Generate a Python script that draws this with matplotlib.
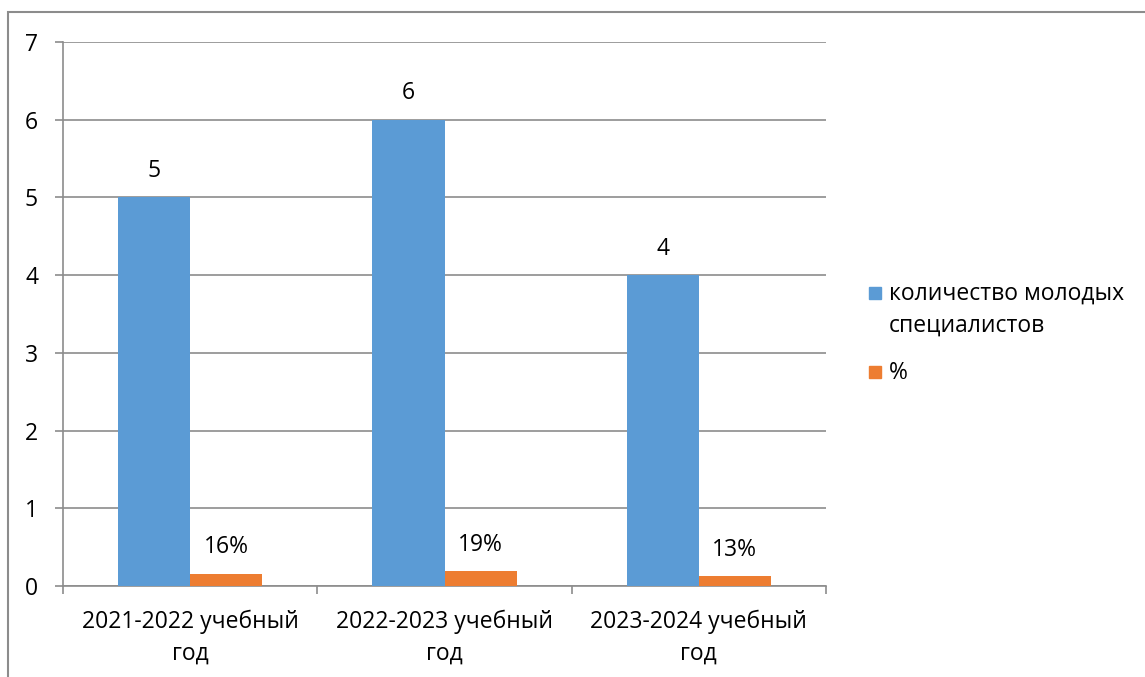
import numpy as np
import matplotlib.pyplot as plt
from matplotlib.patches import Rectangle

# data
years = ["2021-2022 учебный\nгод", "2022-2023 учебный\nгод", "2023-2024 учебный\nгод"]
young = [5, 6, 4]
pct = [0.16, 0.19, 0.13]
young_labels = ["5", "6", "4"]
pct_labels = ["16%", "19%", "13%"]
series_names = ["количество молодых\nспециалистов", "%"]

plt.rcParams['font.family'] = ['Open Sans', 'DejaVu Sans']
grey = '#8c8c8c'
blue = '#5b9bd5'
orange = '#ed7d31'
fs = 16.5

fig = plt.figure(figsize=(11.45, 6.77), dpi=100)
ax = fig.add_axes([63/1145, 1-586/677, (826-63)/1145, (586-42)/677])

x = np.arange(len(years))
w = 72/254
b1 = ax.bar(x - w/2, young, w, color=blue, zorder=3)
b2 = ax.bar(x + w/2, pct, w, color=orange, zorder=3)

for rect, lab in zip(b1, young_labels):
    ax.annotate(lab, (rect.get_x() + rect.get_width()/2, rect.get_height()),
                xytext=(0, 19), textcoords='offset points', ha='center', va='center', fontsize=fs)
for rect, lab in zip(b2, pct_labels):
    ax.annotate(lab, (rect.get_x() + rect.get_width()/2, rect.get_height()),
                xytext=(0, 19), textcoords='offset points', ha='center', va='center', fontsize=fs)

ax.set_xlim(-0.5, 2.5)
ax.set_ylim(0, 7)
ax.set_yticks(range(8))
ax.yaxis.grid(True, color=grey, lw=1.2, zorder=0)
ax.set_axisbelow(True)

ax.set_xticks(x)
ax.set_xticklabels(years, fontsize=fs, linespacing=1.45)
ax.set_xticks([-0.5, 0.5, 1.5, 2.5], minor=True)
ax.tick_params(axis='x', which='major', length=0, pad=17)
ax.tick_params(axis='x', which='minor', length=6, color=grey, width=1.2)
ax.tick_params(axis='y', length=6, color=grey, width=1.2, pad=12, labelsize=fs)

for s in ['top', 'right']:
    ax.spines[s].set_visible(False)
for s in ['left', 'bottom']:
    ax.spines[s].set_color(grey)
    ax.spines[s].set_linewidth(1.2)

# legend drawn by hand so the marker sits on the first text line
leg_items = [(series_names[0], blue, 293), (series_names[1], orange, 372)]
for name, col, ypix in leg_items:
    fig.add_artist(Rectangle((869/1145, 1-(ypix+6)/677), 12/1145, 12/677,
                             transform=fig.transFigure, color=col))
    fig.text(889/1145, 1-(ypix-11)/677, name, fontsize=fs, va='top', ha='left', linespacing=1.45)

# chart border
fig.add_artist(Rectangle((8/1145, -0.1), 1.2, (677-12)/677 + 0.1, transform=fig.transFigure,
                         fill=False, ec=grey, lw=1.5))

fig.savefig("out.png", dpi=100)
